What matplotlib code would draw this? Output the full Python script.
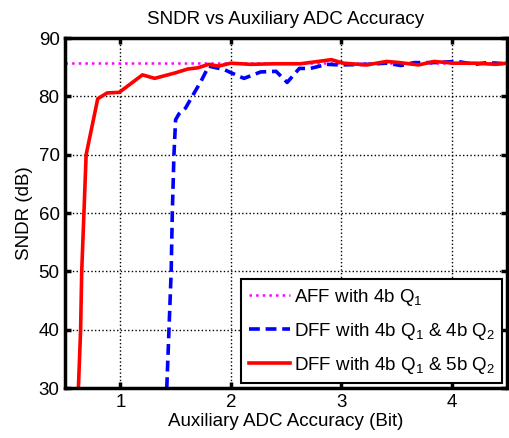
import numpy as np
import matplotlib
matplotlib.use('Agg')
import matplotlib.pyplot as plt

plt.rcParams['font.family'] = ['Liberation Sans', 'DejaVu Sans']
plt.rcParams['mathtext.default'] = 'regular'

# AFF reference level
aff_x = [0.5, 4.5]
aff_y = [85.7, 85.7]

# DFF with 4b Q1 & 4b Q2
dff4_x = [1.42, 1.44, 1.46, 1.47, 1.485, 1.50, 1.53, 1.59, 1.65, 1.73, 1.80, 1.94, 2.08, 2.12, 2.27,
          2.41, 2.51, 2.62, 2.72, 2.87, 2.99, 3.23, 3.41, 3.54, 3.66, 3.84, 4.05, 4.21, 4.32, 4.5]
dff4_y = [30, 40, 50, 60, 70, 76.0, 77.0, 78.0, 80.0, 82.6, 85.2, 84.6, 83.4, 83.1, 84.2,
          84.3, 82.4, 84.8, 84.8, 85.5, 85.4, 85.5, 85.7, 85.3, 85.8, 85.8, 86.0, 85.5, 85.8, 85.6]

# DFF with 4b Q1 & 5b Q2
dff5_x = [0.62, 0.64, 0.65, 0.67, 0.69, 0.795, 0.88, 0.99, 1.20, 1.31, 1.49, 1.61, 1.70, 1.80, 1.89,
          2.0, 2.18, 2.40, 2.63, 2.91, 3.02, 3.23, 3.41, 3.53, 3.70, 3.84, 4.02, 4.22, 4.40, 4.5]
dff5_y = [30, 40, 50, 60, 70, 79.6, 80.6, 80.7, 83.7, 83.1, 84.0, 84.7, 84.9, 85.5, 85.2,
          85.7, 85.5, 85.6, 85.6, 86.3, 85.7, 85.4, 86.0, 85.8, 85.4, 86.0, 85.7, 85.7, 85.5, 85.7]

fs = 13.5

fig = plt.figure(figsize=(5.09, 4.38), dpi=100)
ax = fig.add_axes([0.128, 0.114, 0.868, 0.799])

ax.plot(aff_x, aff_y, ':', color='#ff00ff', lw=1.8, label='AFF with 4b Q$_1$')
ax.plot(dff4_x, dff4_y, '--', color='#0000ff', lw=2.6, dashes=(3, 1.6),
        label='DFF with 4b Q$_1$ & 4b Q$_2$')
ax.plot(dff5_x, dff5_y, '-', color='#ff0000', lw=2.6, label='DFF with 4b Q$_1$ & 5b Q$_2$')

ax.set_xlim(0.5, 4.5)
ax.set_ylim(30, 90)
ax.set_xticks([1, 2, 3, 4])
ax.set_yticks([30, 40, 50, 60, 70, 80, 90])
ax.grid(True, linestyle=':', color='black', linewidth=1.0)
ax.tick_params(direction='in', length=4, width=2.5, top=True, right=True, labelsize=fs, pad=4)
for s in ax.spines.values():
    s.set_linewidth(2.5)

ax.set_title('SNDR vs Auxiliary ADC Accuracy', fontsize=fs, pad=10)
ax.set_xlabel('Auxiliary ADC Accuracy (Bit)', fontsize=fs, labelpad=2)
ax.set_ylabel('SNDR (dB)', fontsize=fs, labelpad=4)

leg = ax.legend(loc='lower right', fontsize=fs, fancybox=False, framealpha=1,
                edgecolor='black', handlelength=2.2, handletextpad=0.2,
                borderaxespad=0.25, labelspacing=0.7, borderpad=0.4)
leg.get_frame().set_linewidth(1.5)

fig.savefig('out.png', dpi=100)
